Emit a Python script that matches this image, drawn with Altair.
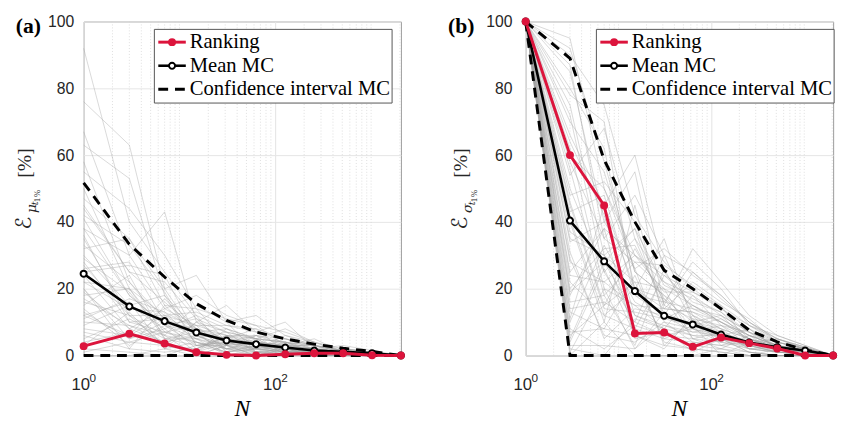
import altair as alt
import pandas as pd

# ---------------- data ----------------
N_VALUES = [1, 3, 7, 15, 31, 63, 127, 255, 511, 1023, 2047]

rank_a = [2.8, 6.5, 3.6, 1.0, 0.2, 0.0, 0.4, 0.7, 0.7, 0.1, 0.0]
mean_a = [24.5, 14.7, 10.3, 6.9, 4.5, 3.4, 2.4, 1.5, 1.1, 0.7, 0.0]
ci_up_a = [51.7, 33.3, 23.5, 15.5, 10.5, 7.0, 5.0, 3.4, 2.2, 1.2, 0.0]
ci_lo_a = [0, 0, 0, 0, 0, 0, 0, 0, 0, 0, 0]

rank_b = [100, 60.0, 44.9, 6.6, 6.9, 2.6, 5.4, 3.7, 2.1, 0.0, 0.0]
mean_b = [100, 40.4, 28.2, 19.3, 11.9, 9.3, 6.3, 3.9, 2.5, 1.5, 0.0]
ci_up_b = [100, 89.0, 58.6, 40.0, 25.5, 20.0, 14.0, 7.6, 4.1, 1.7, 0.0]
ci_lo_b = [100, 0, 0, 0, 0, 0, 0, 0, 0, 0, 0]

# individual Monte-Carlo runs (one list per N, one entry per run)
gray_a = [
    [92, 76, 67, 63, 55, 50, 47, 44, 41, 38, 35, 33, 30, 28, 26, 24, 22, 20, 18, 16, 14, 12, 10, 8, 6, 5, 4, 2, 1, 0,
     45, 38, 32, 27, 22, 19, 15, 12, 9, 7, 36, 29, 25, 17, 13, 11, 3, 42, 58, 20],
    [40, 63, 30, 53, 44, 20, 35, 25, 18, 30, 12, 22, 15, 10, 28, 8, 14, 5, 20, 12, 3, 16, 9, 6, 2, 11, 7, 1, 4, 0,
     25, 18, 35, 12, 20, 8, 24, 6, 15, 4, 10, 19, 27, 9, 5, 17, 13, 33, 22, 2],
    [25, 20, 43, 18, 30, 12, 15, 22, 9, 14, 6, 11, 18, 7, 10, 4, 13, 8, 5, 3, 9, 2, 6, 12, 1, 5, 3, 0, 7, 2,
     16, 9, 20, 12, 7, 14, 5, 17, 8, 3, 11, 6, 24, 4, 10, 13, 2, 19, 9, 15],
    [12, 24, 10, 8, 14, 9, 6, 11, 5, 18, 4, 7, 3, 9, 2, 6, 8, 1, 5, 10, 3, 4, 0, 6, 2, 7, 1, 3, 5, 0,
     8, 11, 6, 13, 4, 9, 3, 7, 12, 2, 5, 15, 6, 1, 8, 4, 10, 3, 7, 14],
    [8, 10, 15, 6, 4, 9, 5, 3, 7, 12, 2, 5, 4, 1, 6, 3, 2, 8, 0, 4, 5, 1, 3, 2, 6, 0, 4, 1, 2, 3,
     5, 7, 3, 9, 2, 6, 4, 8, 1, 5, 3, 10, 2, 6, 4, 1, 7, 3, 5, 11],
    [5, 12, 7, 4, 3, 8, 2, 6, 5, 9, 1, 3, 4, 2, 6, 0, 3, 5, 2, 1, 4, 3, 0, 2, 5, 1, 2, 3, 0, 1,
     3, 5, 2, 7, 4, 1, 6, 3, 2, 8, 4, 1, 5, 3, 2, 6, 1, 4, 3, 9],
    [4, 6, 10, 3, 2, 5, 1, 4, 8, 3, 2, 1, 3, 5, 0, 2, 4, 1, 3, 0, 2, 1, 3, 0, 4, 2, 1, 0, 2, 1,
     2, 4, 1, 5, 3, 1, 3, 2, 6, 1, 2, 4, 1, 3, 2, 5, 0, 2, 1, 7],
    [3, 4, 2, 5, 1, 3, 2, 1, 4, 2, 0, 1, 3, 2, 1, 0, 2, 1, 3, 0, 1, 2, 0, 1, 3, 0, 1, 2, 0, 1,
     1, 2, 1, 3, 2, 0, 2, 1, 3, 1, 2, 1, 0, 2, 1, 3, 1, 0, 2, 4],
    [2, 1, 3, 1, 2, 0, 1, 2, 1, 0, 1, 2, 1, 0, 1, 1, 0, 2, 1, 0, 1, 0, 1, 0, 1, 0, 1, 0, 0, 1,
     0.5, 1, 0.5, 1.5, 1, 0, 1, 0.5, 1.5, 0.5, 1, 0.5, 0, 1, 0.5, 1.5, 0.5, 0, 1, 2],
    [1, 0.5, 1.5, 0.5, 1, 0, 0.5, 1, 0.5, 0, 0.5, 1, 0, 0.5, 1, 0, 0.5, 0, 1, 0, 0.5, 0, 0.5, 0, 0.5, 0, 0, 0.5, 0, 0,
     0, 0.5, 0, 1, 0.5, 0, 0.5, 0, 1, 0, 0.5, 0, 0, 0.5, 0, 1, 0, 0, 0.5, 1],
    [0] * 50,
]
gray_b = [
    [100] * 50,
    [95, 90, 85, 80, 75, 70, 66, 62, 58, 54, 50, 46, 43, 40, 37, 34, 31, 28, 25, 22, 19, 16, 13, 10, 8, 6, 4, 2, 1, 0,
     92, 87, 78, 72, 64, 56, 48, 41, 35, 29, 24, 18, 14, 11, 7, 5, 3, 60, 45, 20],
    [50, 75, 40, 62, 30, 55, 45, 20, 35, 68, 25, 15, 48, 10, 30, 40, 5, 22, 38, 12, 28, 18, 8, 33, 2, 15, 26, 0, 20, 10,
     58, 35, 70, 25, 42, 18, 52, 12, 30, 6, 22, 38, 16, 45, 8, 28, 3, 50, 14, 32],
    [30, 42, 55, 20, 38, 25, 60, 15, 28, 35, 10, 22, 18, 45, 8, 26, 14, 30, 5, 20, 12, 3, 24, 16, 9, 32, 6, 11, 2, 0,
     25, 48, 18, 35, 12, 28, 40, 8, 22, 4, 15, 30, 10, 20, 6, 38, 2, 26, 13, 33],
    [22, 28, 15, 35, 12, 18, 25, 8, 20, 14, 30, 5, 16, 10, 24, 3, 12, 19, 7, 14, 9, 26, 4, 11, 6, 17, 2, 8, 13, 0,
     18, 30, 12, 22, 8, 27, 15, 5, 20, 10, 14, 24, 6, 17, 3, 21, 9, 32, 11, 16],
    [15, 20, 32, 10, 25, 8, 14, 18, 5, 22, 12, 9, 28, 4, 16, 11, 7, 19, 3, 13, 6, 10, 2, 15, 8, 5, 12, 1, 9, 0,
     12, 25, 9, 18, 6, 21, 11, 4, 15, 8, 13, 19, 5, 10, 2, 17, 7, 24, 9, 14],
    [10, 14, 22, 8, 18, 6, 12, 9, 4, 16, 7, 11, 20, 3, 13, 5, 9, 15, 2, 8, 6, 12, 1, 10, 4, 7, 3, 5, 0, 2,
     8, 17, 6, 12, 4, 15, 9, 3, 11, 5, 10, 14, 2, 7, 1, 13, 6, 18, 5, 10],
    [6, 9, 12, 5, 10, 4, 7, 3, 8, 11, 2, 6, 9, 4, 5, 1, 7, 3, 6, 2, 8, 4, 0, 5, 3, 2, 6, 1, 4, 0,
     5, 10, 3, 7, 2, 9, 5, 1, 6, 3, 6, 8, 1, 4, 0, 7, 3, 10, 2, 5],
    [3, 5, 6, 2, 4, 3, 1, 5, 2, 4, 3, 1, 6, 2, 3, 0, 4, 2, 3, 1, 2, 5, 0, 3, 1, 2, 4, 0, 1, 2,
     2, 5, 1, 3, 1, 4, 2, 0, 3, 1, 3, 4, 0, 2, 0, 3, 1, 5, 1, 2],
    [1.5, 2, 3, 1, 2, 1.5, 0.5, 2.5, 1, 2, 1, 0.5, 3, 1, 1.5, 0, 2, 1, 1.5, 0.5, 1, 2.5, 0, 1.5, 0.5, 1, 2, 0, 0.5, 1,
     1, 2, 0.5, 1.5, 0.5, 2, 1, 0, 1.5, 0.5, 1, 2, 0, 1, 0, 1.5, 0.5, 2.5, 0.5, 1],
    [0] * 50,
]

MAJOR_X = [1, 100]
MINOR_X = [2, 3, 4, 5, 6, 7, 8, 9, 10, 20, 30, 40, 50, 60, 70, 80, 90,
           200, 300, 400, 500, 600, 700, 800, 900, 1000, 2000]
Y_TICKS = [0, 20, 40, 60, 80, 100]
X_LABELS = [1, 100]
X_LABEL_BASE = ["10", "10"]
X_LABEL_EXP = ["0", "2"]

LEGEND_LABELS = ["Ranking", "Mean MC", "Confidence interval MC"]

RED = "#dc143c"
SERIF = "Liberation Serif"
SANS = "Liberation Sans"
H = 340


def make_panel(gray, rank, mean, ci_up, ci_lo, width, tag, sym, tag_x, ytitle_x, lab_pad):
    xs = alt.Scale(type="log", domain=[1, 2047], nice=False)
    ys = alt.Scale(domain=[0, 100], nice=False)
    one = pd.DataFrame({"k": [0]})

    gray_rows = []
    for i, n in enumerate(N_VALUES):
        for r, v in enumerate(gray[i]):
            gray_rows.append({"N": n, "v": v, "run": r})
    gdf = pd.DataFrame(gray_rows)

    main = pd.DataFrame({"N": N_VALUES, "rank": rank, "mean": mean})
    ci = pd.DataFrame(
        [{"N": n, "v": v, "b": "up"} for n, v in zip(N_VALUES, ci_up)]
        + [{"N": n, "v": v, "b": "lo"} for n, v in zip(N_VALUES, ci_lo)]
    )

    x_axis = alt.Axis(values=MAJOR_X, grid=True, gridColor="#e2e2e2", gridWidth=1,
                      labels=False, ticks=False, domain=False, title=None)
    y_axis = alt.Axis(values=Y_TICKS, grid=True, gridColor="#e6e6e6", gridWidth=1,
                      labelFont=SANS, labelFontSize=16, labelColor="#262626",
                      labelPadding=lab_pad, ticks=False, domain=False, title=None)

    minor = alt.Chart(pd.DataFrame({"m": MINOR_X})).mark_rule(
        color="#d6d6d6", strokeWidth=0.8, strokeDash=[1, 2]
    ).encode(x=alt.X("m:Q", scale=xs, axis=x_axis), y=alt.value(0), y2=alt.value(H))

    runs = alt.Chart(gdf).mark_line(color="#a0a0a0", strokeWidth=0.8, opacity=0.5).encode(
        x=alt.X("N:Q", scale=xs),
        y=alt.Y("v:Q", scale=ys, axis=y_axis),
        detail="run:N",
    )

    ci_line = alt.Chart(ci).mark_line(color="black", strokeWidth=3, strokeDash=[10, 7]).encode(
        x=alt.X("N:Q", scale=xs), y=alt.Y("v:Q", scale=ys), detail="b:N"
    )
    mean_line = alt.Chart(main).mark_line(color="black", strokeWidth=2.6).encode(
        x=alt.X("N:Q", scale=xs), y=alt.Y("mean:Q", scale=ys)
    )
    rank_line = alt.Chart(main).mark_line(color=RED, strokeWidth=3).encode(
        x=alt.X("N:Q", scale=xs), y=alt.Y("rank:Q", scale=ys)
    )
    mean_pts = alt.Chart(main).mark_point(
        shape="circle", filled=True, fill="white", stroke="black", strokeWidth=2, size=38, opacity=1
    ).encode(x=alt.X("N:Q", scale=xs), y=alt.Y("mean:Q", scale=ys))
    rank_pts = alt.Chart(main).mark_circle(color=RED, size=65, opacity=1).encode(
        x=alt.X("N:Q", scale=xs), y=alt.Y("rank:Q", scale=ys)
    )

    # x tick labels 10^k
    xl = pd.DataFrame({"v": X_LABELS, "base": X_LABEL_BASE, "exp": X_LABEL_EXP})
    xbase = alt.Chart(xl).mark_text(font=SANS, fontSize=17, color="#262626", align="center",
                                    baseline="middle", dx=-3).encode(
        x=alt.X("v:Q", scale=xs), y=alt.value(H + 30), text="base:N")
    xexp = alt.Chart(xl).mark_text(font=SANS, fontSize=12, color="#262626", align="left",
                                   baseline="middle", dx=6).encode(
        x=alt.X("v:Q", scale=xs), y=alt.value(H + 23), text="exp:N")

    xtitle = alt.Chart(one).mark_text(text="N", font=SERIF, fontStyle="italic", fontSize=24,
                                      align="center", baseline="middle").encode(
        x=alt.value(width / 2), y=alt.value(H + 55))

    tag_txt = alt.Chart(one).mark_text(text=tag, font=SERIF, fontWeight="bold", fontSize=22,
                                       align="left", baseline="alphabetic").encode(
        x=alt.value(tag_x), y=alt.value(12))

    # y title  E_{sym_{t_{1%}}} [%]
    def ypiece(txt, size, dx, dy, font="DejaVu Sans", style="normal"):
        return alt.Chart(one).mark_text(text=txt, font=font, fontSize=size, fontStyle=style,
                                        angle=270, align="left", baseline="alphabetic",
                                        dx=dx, dy=dy, color="#262626").encode(
            x=alt.value(ytitle_x), y=alt.value(212))

    ytitle = [
        ypiece("ℰ", 22, 0, 0),
        ypiece(sym, 14, 17, 5, font="DejaVu Serif", style="italic"),
        ypiece("t", 10, 25, 8, font="DejaVu Serif", style="italic"),
        ypiece("1%", 8, 28, 10, font="DejaVu Serif"),
        ypiece("[%]", 20, 53, 0, font=SERIF),
    ]

    # legend
    lx0, lx1 = 72, 314
    box = alt.Chart(one).mark_rect(fill="white", stroke="#555555", strokeWidth=1).encode(
        x=alt.value(lx0), x2=alt.value(lx1), y=alt.value(8), y2=alt.value(83))
    rows_y = [21, 45, 69]
    leg = [box]
    leg.append(alt.Chart(one).mark_rule(color=RED, strokeWidth=3).encode(
        x=alt.value(lx0 + 4), x2=alt.value(lx0 + 32), y=alt.value(rows_y[0])))
    leg.append(alt.Chart(one).mark_circle(color=RED, size=65, opacity=1).encode(
        x=alt.value(lx0 + 18), y=alt.value(rows_y[0])))
    leg.append(alt.Chart(one).mark_rule(color="black", strokeWidth=2.6).encode(
        x=alt.value(lx0 + 4), x2=alt.value(lx0 + 32), y=alt.value(rows_y[1])))
    leg.append(alt.Chart(one).mark_point(shape="circle", filled=True, fill="white", stroke="black",
                                         strokeWidth=2, size=38, opacity=1).encode(
        x=alt.value(lx0 + 18), y=alt.value(rows_y[1])))
    leg.append(alt.Chart(one).mark_rule(color="black", strokeWidth=3, strokeDash=[10, 7]).encode(
        x=alt.value(lx0 + 4), x2=alt.value(lx0 + 32), y=alt.value(rows_y[2])))
    for lab, yy in zip(LEGEND_LABELS, rows_y):
        leg.append(alt.Chart(one).mark_text(text=lab, font=SERIF, fontSize=21, color="black",
                                            align="left", baseline="middle").encode(
            x=alt.value(lx0 + 36), y=alt.value(yy)))

    layers = [minor, runs, ci_line, mean_line, rank_line, mean_pts, rank_pts,
              xbase, xexp, xtitle, tag_txt] + ytitle + leg
    return alt.layer(*layers).properties(width=width, height=H)


panel_a = make_panel(gray_a, rank_a, mean_a, ci_up_a, ci_lo_a, 323, "(a)", "μ", -69, -54, 10)
panel_b = make_panel(gray_b, rank_b, mean_b, ci_up_b, ci_lo_b, 313, "(b)", "σ", -79, -60, 14)

chart = alt.hconcat(panel_a, panel_b, spacing=127, bounds="flush").configure_view(
    stroke="#9a9a9a", strokeWidth=1
).properties(
    padding={"left": 4, "top": 1, "right": 0, "bottom": 0},
    background="white",
)

chart.save("out.html", embed_options={"renderer": "svg", "actions": False})
